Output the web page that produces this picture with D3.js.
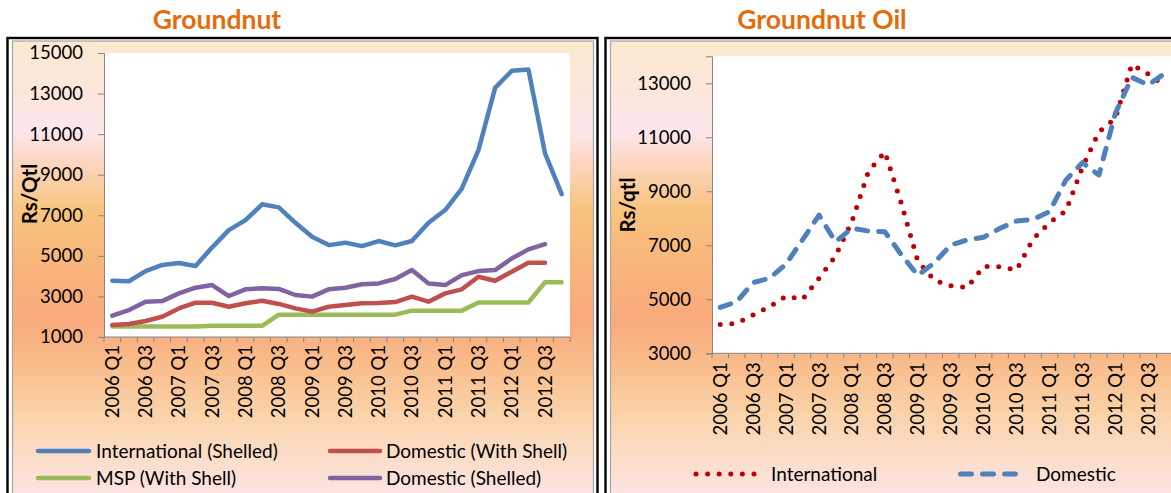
<!DOCTYPE html>
<html>
<head>
<meta charset="utf-8">
<script src="https://cdn.jsdelivr.net/npm/d3@7"></script>
<style>
  body { margin: 0; background: #ffffff; }
  svg { display: block; font-family: Lato, "Open Sans", sans-serif; }
</style>
</head>
<body>
<svg id="chart" width="1171" height="493"></svg>
<script>
// Quarterly categories shared by both panels
const quarters = [
  "2006 Q1","2006 Q2","2006 Q3","2006 Q4",
  "2007 Q1","2007 Q2","2007 Q3","2007 Q4",
  "2008 Q1","2008 Q2","2008 Q3","2008 Q4",
  "2009 Q1","2009 Q2","2009 Q3","2009 Q4",
  "2010 Q1","2010 Q2","2010 Q3","2010 Q4",
  "2011 Q1","2011 Q2","2011 Q3","2011 Q4",
  "2012 Q1","2012 Q2","2012 Q3","2012 Q4"
];
const quarterTicks = ["2006 Q1","2006 Q3","2007 Q1","2007 Q3","2008 Q1","2008 Q3","2009 Q1",
  "2009 Q3","2010 Q1","2010 Q3","2011 Q1","2011 Q3","2012 Q1","2012 Q3"];

// Groundnut prices, Rs/Qtl
const gnInternationalShelled = [3770,3750,4250,4550,4650,4500,5420,6270,6760,7540,7390,6630,5940,5530,
  5650,5480,5730,5520,5730,6630,7260,8320,10210,13280,14120,14190,10050,8040];
const gnDomesticWithShell = [1590,1640,1790,2000,2410,2690,2690,2490,2660,2790,2630,2410,2250,2490,
  2580,2660,2680,2720,2990,2740,3150,3350,3970,3770,4220,4660,4660];
const gnMSPWithShell = [1520,1520,1520,1520,1520,1520,1550,1550,1550,1550,2100,2100,2100,2100,
  2100,2100,2100,2100,2300,2300,2300,2300,2700,2700,2700,2700,3700,3700];
const gnDomesticShelled = [2050,2330,2740,2770,3150,3430,3560,3020,3350,3400,3370,3070,2990,3350,
  3430,3600,3640,3860,4300,3640,3560,4050,4250,4300,4870,5320,5580];
const gnTicks = [1000,3000,5000,7000,9000,11000,13000,15000];

// Groundnut oil prices, Rs/qtl
const oilInternational = [4070,4110,4420,4730,5120,5000,5780,6600,7880,9730,10460,8550,6420,5710,
  5500,5440,6220,6200,6090,7230,7840,8280,9890,11200,11700,13700,13340,12900];
const oilDomestic = [4700,4910,5620,5780,6310,7200,8120,7130,7630,7530,7500,6650,5890,6350,
  7010,7200,7300,7630,7900,7960,8250,9420,10060,9600,11890,13220,12940,13370];
const oilTicks = [3000,5000,7000,9000,11000,13000];

const svg = d3.select("#chart");
const axisGrey = "#868686";

// Background gradient used inside both panel frames
const defs = svg.append("defs");
const grad = defs.append("linearGradient")
  .attr("id", "panelFill").attr("gradientUnits", "userSpaceOnUse")
  .attr("x1", 0).attr("x2", 0).attr("y1", 41).attr("y2", 493);
[[0, "#fbe9cf"], [0.12, "#fce6dc"], [0.2, "#fde6ec"], [0.27, "#fbd6c0"], [0.37, "#f8c480"],
 [0.5, "#f8b47a"], [0.62, "#f8aa7c"], [0.72, "#f9bd8c"], [0.82, "#fad2a8"], [0.92, "#fbddc8"],
 [1, "#fde3e2"]]
  .forEach(([o, c]) => grad.append("stop").attr("offset", o).attr("stop-color", c));

function panelFrame(x0, x1) {
  svg.append("rect").attr("x", x0 + 5).attr("y", 41).attr("width", x1 - x0 - 9).attr("height", 480)
    .attr("fill", "url(#panelFill)").attr("stroke", "#a6a6a6").attr("stroke-width", 1.2);
  svg.append("rect").attr("x", x0).attr("y", 38).attr("width", x1 - x0).attr("height", 490)
    .attr("fill", "none").attr("stroke", "#000").attr("stroke-width", 2.4);
}
panelFrame(7.5, 597.5);
panelFrame(605.5, 1200);

function title(text, cx) {
  svg.append("text").attr("x", cx).attr("y", 29).attr("text-anchor", "middle")
    .attr("font-weight", "bold").attr("font-size", 26.5).attr("fill", "#e46c0a").text(text);
}
title("Groundnut", 217);
title("Groundnut Oil", 822);

function panel(cfg) {
  const x = d3.scaleBand().domain(quarters).range([cfg.left, cfg.right]);
  const y = d3.scaleLinear().domain(cfg.domain).range([cfg.bottom, cfg.top]);
  const g = svg.append("g");

  g.append("rect").attr("x", cfg.left).attr("y", cfg.top)
    .attr("width", cfg.right - cfg.left).attr("height", cfg.bottom - cfg.top).attr("fill", "#fff");

  // y axis
  const ya = g.append("g").attr("transform", `translate(${cfg.left},0)`)
    .call(d3.axisLeft(y).tickValues(cfg.ticks).tickSize(6).tickPadding(cfg.tickPad).tickFormat(d3.format("d")));
  ya.select(".domain").attr("stroke", axisGrey);
  ya.selectAll(".tick line").attr("stroke", axisGrey);
  ya.selectAll(".tick text").attr("font-size", 18.5).attr("fill", "#000").attr("font-family", "Lato, sans-serif");

  // x axis: ticks on category boundaries, labels every other quarter
  const xa = g.append("g").attr("transform", `translate(0,${cfg.bottom})`);
  xa.append("line").attr("x1", cfg.left).attr("x2", cfg.right).attr("stroke", axisGrey);
  xa.selectAll("line.bt").data(d3.range(quarters.length + 1)).join("line").attr("class", "bt")
    .attr("x1", i => cfg.left + i * x.bandwidth()).attr("x2", i => cfg.left + i * x.bandwidth())
    .attr("y1", 0).attr("y2", 5).attr("stroke", axisGrey);
  xa.selectAll("text").data(quarterTicks).join("text")
    .attr("transform", d => `translate(${x(d) + x.bandwidth() / 2},${cfg.labelGap}) rotate(-90)`)
    .attr("text-anchor", "end").attr("dy", "0.35em").attr("font-size", 18.5).attr("fill", "#000")
    .text(d => d);

  // y axis title
  g.append("text").attr("transform", `translate(${cfg.titleX},${cfg.titleY}) rotate(-90)`)
    .attr("text-anchor", "middle").attr("dy", "0.35em").attr("font-weight", "bold")
    .attr("font-size", 20.5).attr("fill", "#000").text(cfg.yTitle);

  const line = d3.line().x((d, i) => x(quarters[i]) + x.bandwidth() / 2).y(d => y(d));
  cfg.series.forEach(s => {
    g.append("path").datum(s.values).attr("d", line).attr("fill", "none")
      .attr("stroke", s.color).attr("stroke-width", s.width)
      .attr("stroke-linejoin", "round").attr("stroke-linecap", "round")
      .attr("stroke-dasharray", s.dash || null);
  });
  return g;
}

const gnSeries = [
  { name: "International (Shelled)", values: gnInternationalShelled, color: "#4f81bd", width: 4.5 },
  { name: "Domestic (With Shell)", values: gnDomesticWithShell, color: "#c0504d", width: 4.5 },
  { name: "MSP (With Shell)", values: gnMSPWithShell, color: "#9bbb59", width: 4.5 },
  { name: "Domestic (Shelled)", values: gnDomesticShelled, color: "#8064a2", width: 4.5 }
];
panel({
  left: 104, right: 570, top: 53, bottom: 337, domain: [1000, 15000], ticks: gnTicks,
  tickPad: 15, labelGap: 8, titleX: 30, titleY: 194, yTitle: "Rs/Qtl",
  series: [gnSeries[3], gnSeries[2], gnSeries[1], gnSeries[0]]
});

const oilSeries = [
  { name: "International", values: oilInternational, color: "#c00000", width: 5, dash: "0,11.6" },
  { name: "Domestic", values: oilDomestic, color: "#4f81bd", width: 5, dash: "11,11" }
];
panel({
  left: 712, right: 1173, top: 56.3, bottom: 353.3, domain: [3000, 14000], ticks: oilTicks,
  tickPad: 15, labelGap: 9, titleX: 628, titleY: 205, yTitle: "Rs/qtl",
  series: [oilSeries[0], oilSeries[1]]
});

// Legends
function legendItem(x0, x1, tx, yy, s) {
  svg.append("line").attr("x1", x0).attr("x2", x1).attr("y1", yy).attr("y2", yy)
    .attr("stroke", s.color).attr("stroke-width", s.width).attr("stroke-linecap", "round")
    .attr("stroke-dasharray", s.dash || null);
  svg.append("text").attr("x", tx).attr("y", yy).attr("dy", "0.35em")
    .attr("font-size", 19).attr("fill", "#000").text(s.name);
}
legendItem(38, 89, 96, 451, gnSeries[0]);
legendItem(330, 380, 386, 451, gnSeries[1]);
legendItem(38, 89, 96, 478, gnSeries[2]);
legendItem(330, 380, 386, 478, gnSeries[3]);
legendItem(696, 756, 771, 474, oilSeries[0]);
legendItem(960.5, 1019.5, 1036, 474, oilSeries[1]);
</script>
</body>
</html>
